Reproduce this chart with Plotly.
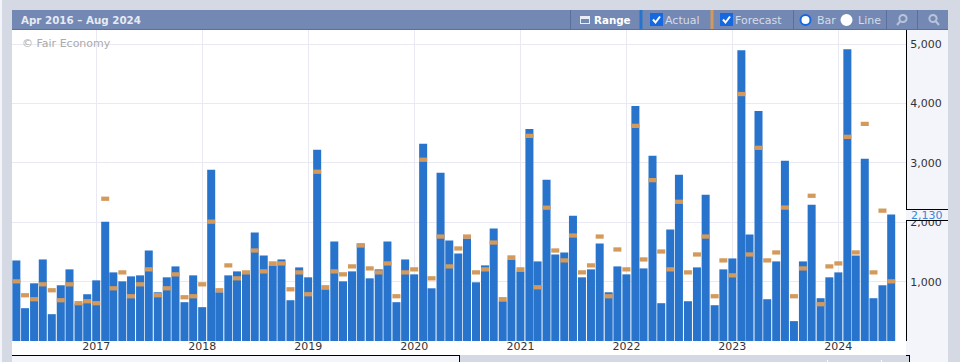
import pandas as pd
import plotly.graph_objects as go

W, H = 960, 362
L, R, T, B = 12, 906, 30, 341

months = pd.date_range("2016-04-01", periods=100, freq="MS")
actual = [1357, 553, 972, 1374, 452, 939, 1207, 630, 788, 1022, 2011, 1156, 1005, 1089, 1106, 1525, 821, 1073, 1257, 654,
          1106, 570, 2886, 821, 1106, 1173, 1173, 1827, 1441, 1274, 1374, 687, 1240, 1073, 3221, 871, 1676, 1005, 1173, 1642,
          1056, 1207, 1676, 654, 1374, 1123, 3322, 888, 2836, 1693, 1475, 1726, 989, 1274, 1894, 670, 1374, 1173, 3574, 1341,
          2718, 1458, 1492, 2112, 1073, 1207, 1642, 821, 1257, 1123, 3960, 1223, 3120, 637, 1877, 2802, 670, 1240, 2464, 603,
          1207, 1391, 4900, 1793, 3876, 704, 1341, 3037, 335, 1341, 2296, 721, 1073, 1156, 4915, 1441, 3070, 721, 939, 2130]
forecast = [1005, 771, 704, 955, 855, 687, 955, 637, 670, 637, 2397, 888, 1156, 754, 955, 1207, 771, 888, 1123, 737,
            754, 955, 2011, 855, 1274, 1056, 1156, 1525, 1173, 1307, 1307, 871, 1156, 788, 2852, 905, 1173, 1123, 1257, 1609,
            1223, 1156, 1307, 754, 1156, 1207, 3054, 1056, 1760, 1257, 1559, 1760, 1156, 1207, 1659, 704, 1408, 1207, 3456, 905,
            2246, 1525, 1358, 1777, 1156, 1274, 1760, 754, 1542, 1207, 3625, 1374, 2710, 1508, 1207, 2346, 1156, 1458, 1760, 754,
            1358, 1106, 4161, 1458, 3255, 1358, 1492, 2248, 754, 1223, 2447, 620, 1257, 1307, 3440, 1492, 3658, 1156, 2196, 1005]
year_ticks = ["2017-01-01", "2018-01-01", "2019-01-01", "2020-01-01", "2021-01-01", "2022-01-01", "2023-01-01", "2024-01-01"]
year_labels = ["2017", "2018", "2019", "2020", "2021", "2022", "2023", "2024"]
y_ticks = [1000, 2000, 3000, 4000, 5000]

BLUE, ORANGE = "#2874cc", "#d39a5c"
GREY, PALE, HEAD = "#d5d9e3", "#f3f5fa", "#7388b3"
FONT = "DejaVu Sans"
BAR_MS = 27.6 * 86400000
MARK_H = 72


def px(x):
    return (x - L) / (R - L)


def py(y):
    return (B - y) / (B - T)


def rect(x0, y0, x1, y1, fill, layer="below"):
    return dict(type="rect", xref="paper", yref="paper", x0=px(x0), x1=px(x1), y0=py(y1), y1=py(y0),
                fillcolor=fill, line=dict(width=0), layer=layer)


def line(x0, y0, x1, y1, color="#000000", w=1, layer="above"):
    return dict(type="line", xref="paper", yref="paper", x0=px(x0), x1=px(x1), y0=py(y0), y1=py(y1),
                line=dict(color=color, width=w), layer=layer)


def circle(cx, cy, r, fill, stroke=None, w=0):
    return dict(type="circle", xref="paper", yref="paper", x0=px(cx - r), x1=px(cx + r), y0=py(cy + r), y1=py(cy - r),
                fillcolor=fill, line=dict(color=stroke or fill, width=w), layer="above")


def text(x, y, s, color, size=11, bold=False, anchor="left"):
    return dict(xref="paper", yref="paper", x=px(x), y=py(y), text=f"<b>{s}</b>" if bold else s, showarrow=False,
                xanchor=anchor, yanchor="middle", font=dict(family=FONT, size=size, color=color),
                borderpad=0, borderwidth=0)


shapes = [
    rect(0, 0, W, 10, GREY), rect(0, 0, 12, H, GREY), rect(0, 0, 2, H, PALE),
    rect(948, 0, W, H, GREY),
    rect(906, 30, 948, H, PALE),
    rect(12, 355, 459, H, PALE), rect(459, 355, 906, H, GREY), rect(906, 355, 910, H, GREY),
    rect(827, 360, 828, H, "#ffffff"), rect(881, 360, 882, H, "#ffffff"),
    rect(12, 10, 948, 29, HEAD, "above"), rect(12, 29, 948, 30, "#5b6f9e", "above"),
    line(12, 355.5, 459, 355.5), line(459.5, 355, 459.5, H), line(906, 355.5, 910, 355.5), line(909.5, 355, 909.5, H),
    rect(906, 209, 948, 220.5, PALE, "above"),
    line(906, 209.5, 948, 209.5), line(906, 220.5, 948, 220.5),
    rect(639.5, 10, 642.5, 29, BLUE, "above"), rect(710.5, 10, 713.5, 29, ORANGE, "above"),
]
for sx in (570.5, 793.5, 886.5, 917.5):
    shapes.append(line(sx, 10, sx, 29, "#5b6f9e"))

# check boxes
for bx in (650, 720):
    shapes.append(rect(bx, 13, bx + 13, 26, "#1668e0", "above"))
    shapes.append(dict(type="path", xref="paper", yref="paper",
                       path=f"M {px(bx + 3)} {py(19.5)} L {px(bx + 5.5)} {py(22.5)} L {px(bx + 10)} {py(16.5)}",
                       line=dict(color="#ffffff", width=2), layer="above"))
# radio buttons
shapes.append(circle(805.5, 20, 5, "#ffffff", "#1668e0", 2))
shapes.append(circle(846.5, 20, 6, "#ffffff"))
# calendar icon
shapes.append(rect(580, 16, 590, 24, "#e8ecf4", "above"))
shapes.append(rect(581, 19, 589, 23, HEAD, "above"))
# magnifier icons
for mx, sgn in ((903, -1), (933, 1)):
    shapes.append(circle(mx, 18.5, 3.6, HEAD, "#b9c4da", 2))
    shapes.append(line(mx + sgn * 3, 21.5, mx + sgn * 6, 25, "#b9c4da", 2))

annotations = [
    text(21, 20, "Apr 2016 – Aug 2024", "#e6eaf2", 10.3, True),
    text(594, 20, "Range", "#ffffff", 10.3, True),
    text(665, 20, "Actual", "#d5dcea", 11),
    text(735, 20, "Forecast", "#d5dcea", 11),
    text(817, 20, "Bar", "#d5dcea", 11),
    text(858, 20, "Line", "#d5dcea", 11),
    text(22, 43, "© Fair Economy", "#ababab", 11),
    text(943, 215, "2,130", "#3a86d8", 11, anchor="right"),
]

fig = go.Figure()
fig.add_bar(x=months, y=actual, width=BAR_MS, marker=dict(color=BLUE, line=dict(width=0)), name="Actual")
fig.add_bar(x=months, y=[MARK_H] * len(forecast), base=[f - MARK_H / 2 for f in forecast], width=BAR_MS,
            marker=dict(color=ORANGE, line=dict(width=0)), name="Forecast", customdata=forecast,
            hovertemplate="%{customdata}<extra>Forecast</extra>")
fig.update_layout(
    width=W, height=H, autosize=False, barmode="overlay", showlegend=False,
    margin=dict(l=L, r=W - R, t=T, b=H - B, pad=0),
    paper_bgcolor="#ffffff", plot_bgcolor="#ffffff",
    font=dict(family=FONT, size=11, color="#333333"),
    shapes=shapes, annotations=annotations,
    xaxis=dict(type="date", range=["2016-03-17", "2024-08-21"], tickmode="array", tickvals=year_ticks,
               ticktext=year_labels, showgrid=True, gridcolor="#e8e9f2", gridwidth=1, zeroline=False, showline=False,
               automargin=False, ticks="", ticklabelstandoff=-3, tickangle=0,
               tickfont=dict(family=FONT, size=11, color="#333333")),
    yaxis=dict(side="right", range=[0, 5240], tickmode="array", tickvals=y_ticks, tickformat=",", showgrid=True,
               gridcolor="#e8e9f2", gridwidth=1, zeroline=False, showline=True, linecolor="#000000", linewidth=1,
               automargin=False, ticks="outside", ticklen=1, tickcolor="rgba(0,0,0,0)",
               tickfont=dict(family=FONT, size=11, color="#333333")),
)
fig.write_html("out.html", config=dict(displayModeBar=False), post_script="document.body.style.margin='0';")
